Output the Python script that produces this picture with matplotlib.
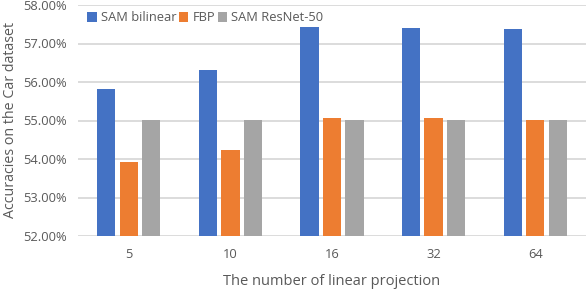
import matplotlib
matplotlib.use("Agg")
import matplotlib.pyplot as plt
import numpy as np
from matplotlib.ticker import FuncFormatter

categories = ["5", "10", "16", "32", "64"]
sam_bilinear = [55.82, 56.31, 57.43, 57.40, 57.38]
fbp = [53.92, 54.23, 55.06, 55.06, 55.00]
sam_resnet50 = [55.00, 55.00, 55.00, 55.00, 55.00]
series_names = ["SAM bilinear", "FBP", "SAM ResNet-50"]
colors = ["#4472C4", "#ED7D31", "#A5A5A5"]

plt.rcParams['font.family'] = ['Open Sans', 'DejaVu Sans']
txt = "#595959"

fig = plt.figure(figsize=(5.86, 2.90), dpi=100)
ax = fig.add_axes([78/586, 1-236/290, 1-78/586, (236-5)/290])

x = np.arange(len(categories))
w = 0.18
step = 0.222
for i, (vals, name, c) in enumerate(zip([sam_bilinear, fbp, sam_resnet50], series_names, colors)):
    ax.bar(x + (i-1)*step, [v-52 for v in vals], width=w, bottom=52, color=c, label=name, zorder=3)

ax.set_xlim(-0.5, len(categories)-0.5)
ax.set_ylim(52, 58)
ax.set_yticks(np.arange(52, 58.01, 1))
ax.yaxis.set_major_formatter(FuncFormatter(lambda v, p: f"{v:.2f}%"))
ax.set_xticks(x)
ax.set_xticklabels(categories)
ax.grid(axis='y', color='#D9D9D9', linewidth=1.3, zorder=0)
for s in ax.spines.values():
    s.set_visible(False)
ax.tick_params(axis='both', length=0, labelsize=9.3, labelcolor=txt)
ax.tick_params(axis='x', pad=9)
ax.tick_params(axis='y', pad=8)
ax.set_xlabel("The number of linear projection", fontsize=10.5, color=txt, labelpad=9)
ax.set_ylabel("Accuracies on the Car dataset", fontsize=10.3, color=txt, labelpad=4)

leg = ax.legend(loc='upper left', bbox_to_anchor=(0.005, 1.0), ncol=3, frameon=False,
                fontsize=9.3, handlelength=0.75, handleheight=0.75, handletextpad=0.3,
                columnspacing=0.2, borderaxespad=0.1)
for t in leg.get_texts():
    t.set_color(txt)

fig.savefig("out.png", dpi=100)
